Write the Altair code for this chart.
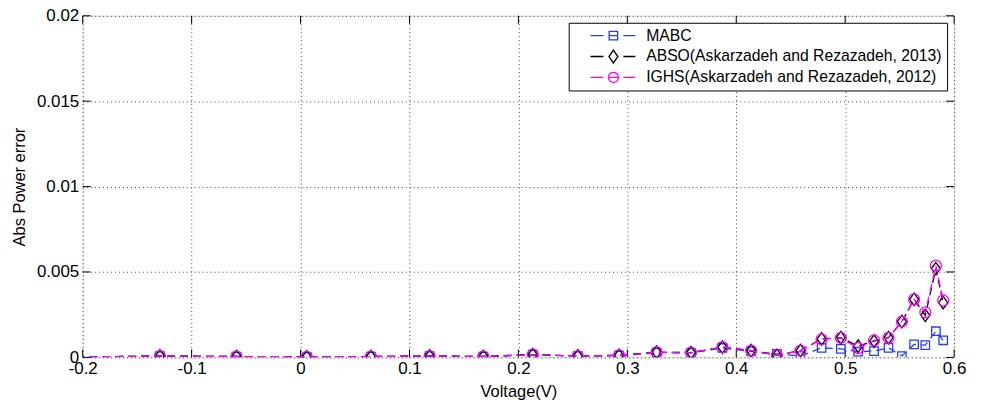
import math
import altair as alt
import pandas as pd

# ---------------- data ----------------
voltage = [-0.2057, -0.1291, -0.0588, 0.0057, 0.0646, 0.1185, 0.1678, 0.2132,
           0.2545, 0.2924, 0.3269, 0.3585, 0.3873, 0.4137, 0.4373, 0.4590,
           0.4784, 0.4960, 0.5119, 0.5265, 0.5398, 0.5521, 0.5633, 0.5736,
           0.5833, 0.5900]

mabc = [0.00002, 0.00008, 0.00005, 0.00003, 0.00005, 0.00008, 0.00005, 0.00016,
        0.00008, 0.00010, 0.00028, 0.00026, 0.00055, 0.00035, 0.00020, 0.00008,
        0.00056, 0.00050, 0.00033, 0.00037, 0.00056, 0.00008, 0.00076, 0.00072,
        0.00153, 0.00100]

abso = [0.00002, 0.00008, 0.00005, 0.00003, 0.00005, 0.00008, 0.00005, 0.00016,
        0.00008, 0.00012, 0.00030, 0.00028, 0.00060, 0.00040, 0.00012, 0.00040,
        0.00108, 0.00116, 0.00066, 0.00095, 0.00116, 0.00210, 0.00340, 0.00246,
        0.00520, 0.00320]

ighs = [0.00002, 0.00008, 0.00005, 0.00003, 0.00005, 0.00008, 0.00005, 0.00016,
        0.00008, 0.00012, 0.00030, 0.00028, 0.00060, 0.00040, 0.00012, 0.00040,
        0.00106, 0.00114, 0.00054, 0.00099, 0.00114, 0.00210, 0.00340, 0.00264,
        0.00537, 0.00333]

series_names = ["MABC",
                "ABSO(Askarzadeh and Rezazadeh, 2013)",
                "IGHS(Askarzadeh and Rezazadeh, 2012)"]
series_values = [mabc, abso, ighs]

x_ticks = [-0.2, -0.1, 0, 0.1, 0.2, 0.3, 0.4, 0.5, 0.6]
y_ticks = [0, 0.005, 0.01, 0.015, 0.02]

# ---------------- styles ----------------
colors = ["#2a3cf0", "#000000", "#ff00ff"]
point_shapes = ["square", "M0,-1.4L1,0L0,1.4L-1,0Z", "circle"]
point_sizes = [72, 81, 121]


def poly_circle(cx, r, n=20):
    pts = []
    for i in range(n):
        a = 2 * math.pi * i / n
        pts.append(f"{cx + r * math.cos(a):.3f},{r * math.sin(a):.3f}")
    return "M" + "L".join(pts) + "Z"


legend_paths = [
    "M1.8,0H4.4M5.55,-0.85H7.25V0.85H5.55ZM5.55,0H7.25M8.4,0H10.8",
    "M1.8,0H4.4M6.4,-1.3L7.3,0L6.4,1.3L5.5,0ZM8.4,0H10.8",
    "M1.8,0H4.4" + poly_circle(6.4, 1.0) + "M5.4,0H7.4M8.4,0H10.8",
]

rows = []
for name, vals in zip(series_names, series_values):
    for v, e in zip(voltage, vals):
        rows.append({"V": v, "err": e, "series": name})
df = pd.DataFrame(rows)

FONT = "Liberation Sans"

xscale = alt.Scale(domain=[-0.2, 0.6], nice=False, zero=False)
yscale = alt.Scale(domain=[0, 0.02], nice=False)

x_enc = alt.X("V:Q", scale=xscale,
              axis=alt.Axis(title="Voltage(V)", values=x_ticks,
                            labelExpr="toString(datum.value)",
                            ticks=False, domain=False, labelPadding=3,
                            titlePadding=7, labelFontSize=17, titleFontSize=16.5,
                            labelFont=FONT, titleFont=FONT, labelColor="black",
                            titleColor="black", titleFontWeight="normal",
                            grid=True, gridDash=[1, 3], gridColor="#444444",
                            gridOpacity=1, labelFlush=False))
y_enc = alt.Y("err:Q", scale=yscale,
              axis=alt.Axis(title="Abs Power error", values=y_ticks,
                            labelExpr="toString(datum.value)",
                            ticks=False, domain=False, labelPadding=4,
                            titlePadding=9, labelFontSize=17, titleFontSize=16.5,
                            labelFont=FONT, titleFont=FONT, labelColor="black",
                            titleColor="black", titleFontWeight="normal",
                            grid=True, gridDash=[1, 3], gridColor="#444444",
                            gridOpacity=1, labelFlush=False))

layers = []
for name, col, shp, sz in zip(series_names, colors, point_shapes, point_sizes):
    sub = alt.Chart(df).transform_filter(alt.datum.series == name)
    layers.append(sub.mark_line(color=col, strokeDash=[8, 5], strokeWidth=1.3,
                                clip=True).encode(x=x_enc, y=y_enc))
    layers.append(sub.mark_point(shape=shp, color=col, size=sz, filled=False,
                                 strokeWidth=1.3, opacity=1, clip=True)
                  .encode(x=x_enc, y=y_enc))

legend_layer = alt.Chart(df).transform_filter("datum.V < -10").mark_point(
    filled=False, strokeWidth=1.3, opacity=1, size=100).encode(
    x=alt.X("V:Q", scale=xscale),
    y=alt.Y("err:Q", scale=yscale),
    color=alt.Color("series:N",
                    scale=alt.Scale(domain=series_names, range=colors),
                    legend=alt.Legend(title=None, orient="top-right", offset=7,
                                      strokeColor="black", fillColor="white",
                                      padding=5, symbolSize=100,
                                      symbolStrokeWidth=1.3, labelOffset=57,
                                      labelFontSize=15.8, labelFont=FONT,
                                      labelColor="black", rowPadding=3,
                                      labelLimit=500)),
    shape=alt.Shape("series:N",
                    scale=alt.Scale(domain=series_names, range=legend_paths)),
)

# inward tick marks (MATLAB style box)
xt = pd.DataFrame({"V": x_ticks})
yt = pd.DataFrame({"err": y_ticks})
tick_layers = [
    alt.Chart(xt).mark_rule(color="black", strokeWidth=1).encode(
        x=alt.X("V:Q", scale=xscale), y=alt.value(343), y2=alt.value(335)),
    alt.Chart(xt).mark_rule(color="black", strokeWidth=1).encode(
        x=alt.X("V:Q", scale=xscale), y=alt.value(0), y2=alt.value(8)),
    alt.Chart(yt).mark_rule(color="black", strokeWidth=1).encode(
        y=alt.Y("err:Q", scale=yscale), x=alt.value(0), x2=alt.value(8)),
    alt.Chart(yt).mark_rule(color="black", strokeWidth=1).encode(
        y=alt.Y("err:Q", scale=yscale), x=alt.value(875), x2=alt.value(867)),
]

chart = alt.layer(*tick_layers, *layers, legend_layer).properties(
    width=875, height=343,
    autosize=alt.AutoSizeParams(type="none"),
    padding={"left": 75, "top": 7, "right": 20, "bottom": 46},
).configure_view(stroke="black", strokeWidth=1.2).configure(background="white")

chart.save("out.html", embed_options={"renderer": "svg", "actions": False})
